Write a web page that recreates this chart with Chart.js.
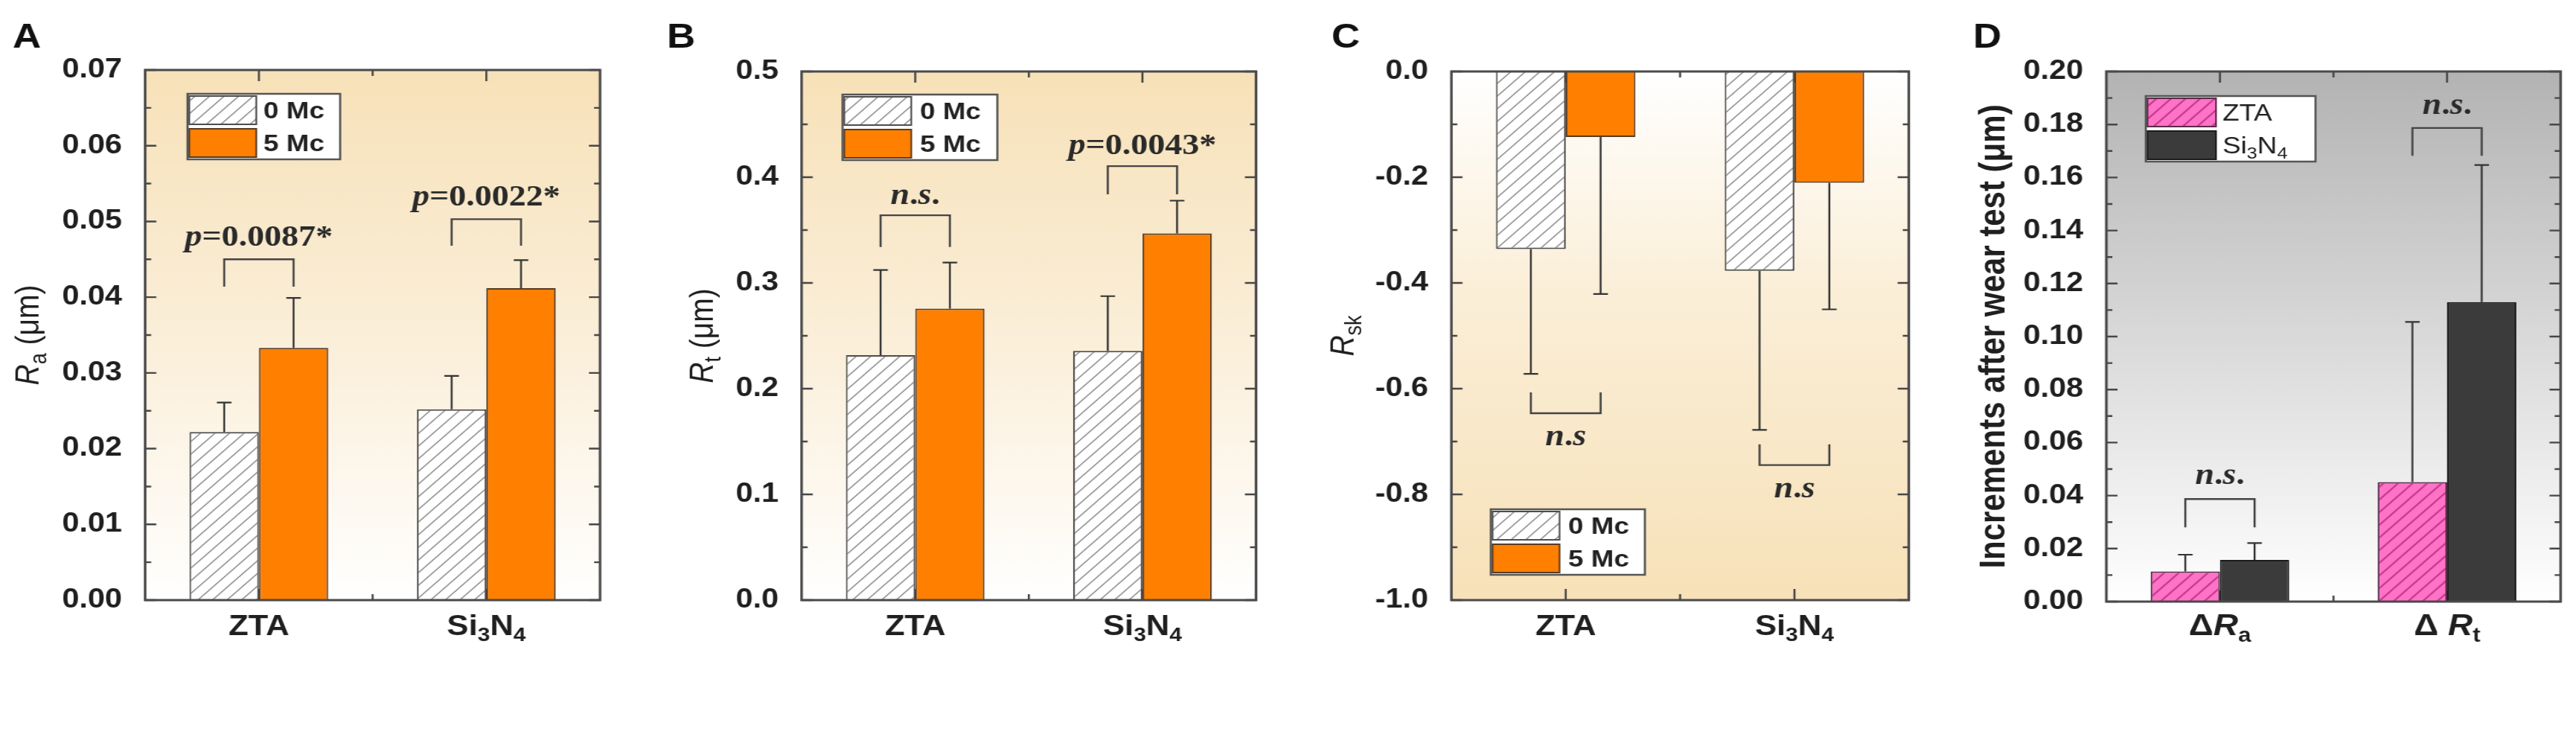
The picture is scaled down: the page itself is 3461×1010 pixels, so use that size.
<!DOCTYPE html>
<html>
<head>
<meta charset="utf-8">
<script src="https://cdn.jsdelivr.net/npm/chart.js@4.4.0/dist/chart.umd.min.js"></script>
<style>
  html, body { margin: 0; padding: 0; background: #fff; }
  body { width: 3461px; height: 1010px; position: relative; overflow: hidden; }
  .panel { position: absolute; top: 0; height: 1010px; transform-origin: 0 0; }
</style>
</head>
<body>
<div class="panel" id="pA"></div>
<div class="panel" id="pB"></div>
<div class="panel" id="pC"></div>
<div class="panel" id="pD"></div>
<script>
// the reference figure is stretched sideways, so each panel is drawn narrow and scaled in x
var S = 1.15;
var H = 1010;
var SANS = '"Liberation Sans", Arial, sans-serif';
var SERIF = '"Liberation Serif", "Times New Roman", serif';

// ---- data ----
var groups = ['ZTA', 'Si3N4'];
var mcLabels = ['0 Mc', '5 Mc'];

// A: Ra (um), mean and SD
var ra0 = [0.0222, 0.0252];
var ra5 = [0.0333, 0.0412];
var ra0Sd = [0.0039, 0.0044];
var ra5Sd = [0.0066, 0.0037];
var raAxis = [0, 0.07, 0.01];
var raSig = ['p=0.0087*', 'p=0.0022*'];
var raSigY = [0.0468, 0.0521];
var raBrY = [0.0450, 0.0503];
var raLegY = [0.0414, 0.0468];

// B: Rt (um)
var rt0 = [0.2317, 0.2357];
var rt5 = [0.2757, 0.3468];
var rt0Sd = [0.0805, 0.0518];
var rt5Sd = [0.0436, 0.0310];
var rtAxis = [0, 0.5, 0.1];
var rtSig = ['n.s.', 'p=0.0043*'];
var rtSigY = [0.3746, 0.4215];
var rtBrY = [0.3640, 0.4105];
var rtLegY = [0.3340, 0.3838];

// C: Rsk
var rsk0 = [-0.336, -0.377];
var rsk5 = [-0.124, -0.2105];
var rsk0Sd = [0.236, 0.301];
var rsk5Sd = [0.297, 0.2395];
var rskAxis = [-1.0, 0.0, 0.2];
var rskSig = ['n.s', 'n.s'];
var rskSigY = [-0.707, -0.805];
var rskBrY = [-0.6465, -0.7446];
var rskLegY = [-0.607, -0.7053];

// D: increments after wear test (um)
var incCats = ['ΔR_a', 'Δ R_t'];
var incLabels = ['ZTA', 'Si3N4'];
var incZta = [0.0114, 0.0451];
var incSi = [0.0157, 0.1130];
var incZtaSd = [0.0063, 0.0604];
var incSiSd = [0.0064, 0.0517];
var incAxis = [0, 0.20, 0.02];
var incSig = ['n.s.', 'n.s.'];
var incSigY = [0.0445, 0.1839];
var incBrY = [0.0387, 0.1787];
var incLegY = [0.0280, 0.1682];

// ---- colours ----
var ORANGE = '#ff7f00';
var BEIGE_TOP = [[0, '#f7e1b8'], [0.55, '#fbf0dc'], [1, '#ffffff']];
var BEIGE_BOTTOM = [[0, '#ffffff'], [0.4, '#fbefd9'], [1, '#f7e1b8']];
var GREY_TOP = [[0, '#b3b3b3'], [1, '#ffffff']];

function hatch(bg, line, lw) {
  var n = 17;
  var c = document.createElement('canvas');
  c.width = c.height = n;
  var x = c.getContext('2d');
  x.fillStyle = bg;
  x.fillRect(0, 0, n, n);
  x.strokeStyle = line;
  x.lineWidth = lw;
  x.beginPath();
  x.moveTo(-4, n + 4); x.lineTo(n + 4, -4);
  x.moveTo(-4, 4); x.lineTo(4, -4);
  x.moveTo(n - 4, n + 4); x.lineTo(n + 4, n - 4);
  x.stroke();
  return x.createPattern(c, 'repeat');
}
var HATCH_GREY = hatch('#ffffff', '#8d8d8d', 1.5);
var HATCH_PINK = hatch('#ff72c6', '#c23c92', 2.2);

// text with italic R, subscripts after "_" and digits after letters
function rich(str, size, weight, fam, italicLetters) {
  var out = [];
  function add(t, f, dy) {
    var last = out[out.length - 1];
    if (last && last.f === f && last.dy === dy) last.t += t;
    else out.push({ t: t, f: f, dy: dy });
  }
  var subF = weight + ' ' + Math.round(size * 0.68) + 'px ' + fam;
  var subDy = Math.round(size * 0.22);
  for (var i = 0; i < str.length; i++) {
    var ch = str[i];
    if (ch === '_') {
      while (i + 1 < str.length && /[a-z0-9]/.test(str[i + 1])) { i++; add(str[i], subF, subDy); }
      continue;
    }
    if (/[0-9]/.test(ch) && i > 0 && /[A-Za-z]/.test(str[i - 1])) { add(ch, subF, subDy); continue; }
    var it = italicLetters ? /[a-zA-Z]/.test(ch) : ch === 'R';
    add(ch, (it ? 'italic ' : '') + weight + ' ' + size + 'px ' + fam, 0);
  }
  return out;
}

function drawRich(ctx, list, x, y, align) {
  var total = 0;
  list.forEach(function (pt) { ctx.font = pt.f; pt.w = ctx.measureText(pt.t).width; total += pt.w; });
  var sx = align === 'center' ? x - total / 2 : (align === 'right' ? x - total : x);
  ctx.textAlign = 'left';
  ctx.textBaseline = 'alphabetic';
  list.forEach(function (pt) { ctx.font = pt.f; ctx.fillText(pt.t, sx, y + pt.dy); sx += pt.w; });
}

function panelPlugin(p) {
  return {
    id: 'panel' + p.letter,
    beforeDraw: function (chart) {
      var ctx = chart.ctx, a = chart.chartArea;
      ctx.save();
      ctx.fillStyle = '#fff';
      ctx.fillRect(0, 0, chart.width, chart.height);
      var g = ctx.createLinearGradient(0, a.top, 0, a.bottom);
      p.bg.forEach(function (s) { g.addColorStop(s[0], s[1]); });
      ctx.fillStyle = g;
      ctx.fillRect(a.left, a.top, a.right - a.left, a.bottom - a.top);
      ctx.restore();
    },
    beforeDatasetsDraw: function (chart) {
      // inward ticks on all four sides
      var ctx = chart.ctx, a = chart.chartArea, ys = chart.scales.y, xs = chart.scales.x;
      ctx.save();
      ctx.strokeStyle = '#474747';
      ctx.lineWidth = 2.4;
      ctx.beginPath();
      var vals = ys.ticks.map(function (t) { return t.value; });
      vals.forEach(function (v, i) {
        var y = ys.getPixelForValue(v);
        ctx.moveTo(a.left, y); ctx.lineTo(a.left + 13, y);
        ctx.moveTo(a.right, y); ctx.lineTo(a.right - 13, y);
        if (i < vals.length - 1) {
          var ym = ys.getPixelForValue((v + vals[i + 1]) / 2);
          ctx.moveTo(a.left, ym); ctx.lineTo(a.left + 7, ym);
          ctx.moveTo(a.right, ym); ctx.lineTo(a.right - 7, ym);
        }
      });
      var n = xs.ticks.length;
      for (var i = 0; i < n; i++) {
        var x = xs.getPixelForTick(i);
        ctx.moveTo(x, a.top); ctx.lineTo(x, a.top + 15);
        ctx.moveTo(x, a.bottom); ctx.lineTo(x, a.bottom - 15);
        if (i < n - 1) {
          var xm = (x + xs.getPixelForTick(i + 1)) / 2;
          ctx.moveTo(xm, a.top); ctx.lineTo(xm, a.top + 8);
          ctx.moveTo(xm, a.bottom); ctx.lineTo(xm, a.bottom - 8);
        }
      }
      ctx.stroke();
      ctx.restore();
    },
    afterDatasetsDraw: function (chart) {
      var ctx = chart.ctx, a = chart.chartArea, ys = chart.scales.y;
      ctx.save();
      // error bars (one sided, away from zero)
      ctx.strokeStyle = '#333';
      ctx.lineWidth = 2.2;
      p.series.forEach(function (s, d) {
        var meta = chart.getDatasetMeta(d);
        meta.data.forEach(function (el, i) {
          var v = s.data[i];
          var end = v + (v < 0 ? -1 : 1) * s.sd[i];
          var y2 = ys.getPixelForValue(end);
          ctx.beginPath();
          ctx.moveTo(el.x, el.y); ctx.lineTo(el.x, y2);
          ctx.moveTo(el.x - 8.5, y2); ctx.lineTo(el.x + 8.5, y2);
          ctx.stroke();
        });
      });
      // significance brackets
      var m0 = chart.getDatasetMeta(0), m1 = chart.getDatasetMeta(1);
      ctx.strokeStyle = '#444';
      ctx.lineWidth = 2.4;
      ctx.fillStyle = '#2a2a2a';
      p.sig.forEach(function (txt, i) {
        var x0 = m0.data[i].x, x1 = m1.data[i].x;
        var yb = ys.getPixelForValue(p.brY[i]), yl = ys.getPixelForValue(p.legY[i]);
        ctx.beginPath();
        ctx.moveTo(x0, yl); ctx.lineTo(x0, yb); ctx.lineTo(x1, yb); ctx.lineTo(x1, yl);
        ctx.stroke();
        drawRich(ctx, rich(txt, 40, 'bold', SERIF, true), (x0 + x1) / 2, ys.getPixelForValue(p.sigY[i]), 'center');
      });
      // frame
      ctx.strokeStyle = '#4a4a4a';
      ctx.lineWidth = 3;
      ctx.strokeRect(a.left, a.top, a.right - a.left, a.bottom - a.top);
      // legend box
      var L = p.legend;
      var lw = L.w / S, lh = 88, rh = lh / 2, sw = L.sw / S;
      var lx = a.left + L.x / S;
      var ly = L.corner === 'top' ? a.top + L.y : a.bottom - L.y - lh;
      ctx.fillStyle = '#fff';
      ctx.fillRect(lx, ly, lw, lh);
      p.series.forEach(function (s, d) {
        var ry = ly + d * rh;
        ctx.fillStyle = s.color;
        ctx.fillRect(lx + 2, ry + 3, sw, rh - 6);
        ctx.strokeStyle = s.border;
        ctx.lineWidth = 2;
        ctx.strokeRect(lx + 2, ry + 3, sw, rh - 6);
        ctx.fillStyle = '#222';
        drawRich(ctx, rich(s.label, 32, L.weight, SANS, false), lx + L.tx / S, ry + rh / 2 + 11, 'left');
      });
      ctx.strokeStyle = '#555';
      ctx.lineWidth = 2.5;
      ctx.strokeRect(lx, ly, lw, lh);
      ctx.restore();
    },
    afterDraw: function (chart) {
      var ctx = chart.ctx, a = chart.chartArea, xs = chart.scales.x;
      ctx.save();
      ctx.fillStyle = '#1f1f1f';
      // category labels
      p.cats.forEach(function (c, i) {
        drawRich(ctx, rich(c, p.catSize, 'bold', SANS, false), xs.getPixelForTick(i), 853, 'center');
      });
      // y title
      ctx.save();
      ctx.translate(p.titleX / S, (a.top + a.bottom) / 2);
      ctx.rotate(-Math.PI / 2);
      drawRich(ctx, rich(p.title, p.titleSize, p.titleWeight, SANS, false), 0, p.titleSize * 0.36, 'center');
      ctx.restore();
      // panel letter
      ctx.font = 'bold 46px ' + SANS;
      ctx.textAlign = 'left';
      ctx.textBaseline = 'alphabetic';
      ctx.fillStyle = '#111';
      ctx.fillText(p.letter, p.letterX / S, 64);
      ctx.restore();
    }
  };
}

function makePanel(id, p) {
  var cw = Math.round(p.width / S);
  var wrap = document.getElementById(id);
  wrap.style.left = p.left + 'px';
  wrap.style.width = cw + 'px';
  wrap.style.transform = 'scaleX(' + S + ')';
  var canvas = document.createElement('canvas');
  canvas.width = cw;
  canvas.height = H;
  canvas.style.width = cw + 'px';
  canvas.style.height = H + 'px';
  wrap.appendChild(canvas);

  var datasets = p.series.map(function (s) {
    return {
      label: s.label,
      data: s.data,
      backgroundColor: s.color,
      borderColor: s.border,
      borderWidth: 2,
      barPercentage: 1.0,
      categoryPercentage: 0.61
    };
  });

  return new Chart(canvas, {
    type: 'bar',
    data: { labels: p.cats, datasets: datasets },
    options: {
      responsive: false,
      animation: false,
      devicePixelRatio: 1,
      layout: { padding: { top: p.plot.t, right: (p.width - p.plot.r) / S, left: 0, bottom: 0 } },
      plugins: { legend: { display: false }, tooltip: { enabled: false } },
      scales: {
        x: {
          grid: { display: false },
          border: { display: false },
          ticks: { display: false },
          afterFit: function (s) { s.height = H - p.plot.b; }
        },
        y: {
          min: p.axis[0],
          max: p.axis[1],
          grid: { display: false },
          border: { display: false },
          ticks: {
            stepSize: p.axis[2],
            autoSkip: false,
            padding: 19,
            color: '#1f1f1f',
            font: { family: SANS, size: 36, weight: 'bold' },
            callback: function (v) { return (Math.abs(v) < 1e-9 ? 0 : v).toFixed(p.dec); }
          },
          afterFit: function (s) { s.width = p.plot.l / S; }
        }
      }
    },
    plugins: [panelPlugin(p)]
  });
}

makePanel('pA', {
  letter: 'A', left: 0, width: 860, plot: { l: 195, r: 806, t: 94, b: 806 },
  letterX: 17, titleX: 36, title: 'R_a (μm)', titleSize: 39, titleWeight: 'normal',
  cats: groups, catSize: 38, axis: raAxis, dec: 2, bg: BEIGE_TOP,
  series: [
    { label: mcLabels[0], data: ra0, sd: ra0Sd, color: HATCH_GREY, border: '#4d4d4d' },
    { label: mcLabels[1], data: ra5, sd: ra5Sd, color: ORANGE, border: '#5a3a20' }
  ],
  sig: raSig, sigY: raSigY, brY: raBrY, legY: raLegY,
  legend: { corner: 'top', x: 57, y: 32, w: 205, sw: 90, tx: 102, weight: 'bold' }
});

makePanel('pB', {
  letter: 'B', left: 860, width: 870, plot: { l: 217, r: 827, t: 96, b: 806 },
  letterX: 36, titleX: 82, title: 'R_t (μm)', titleSize: 39, titleWeight: 'normal',
  cats: groups, catSize: 38, axis: rtAxis, dec: 1, bg: BEIGE_TOP,
  series: [
    { label: mcLabels[0], data: rt0, sd: rt0Sd, color: HATCH_GREY, border: '#4d4d4d' },
    { label: mcLabels[1], data: rt5, sd: rt5Sd, color: ORANGE, border: '#5a3a20' }
  ],
  sig: rtSig, sigY: rtSigY, brY: rtBrY, legY: rtLegY,
  legend: { corner: 'top', x: 55, y: 31, w: 208, sw: 90, tx: 104, weight: 'bold' }
});

makePanel('pC', {
  letter: 'C', left: 1730, width: 870, plot: { l: 220, r: 834, t: 96, b: 806 },
  letterX: 59, titleX: 72, title: 'R_sk', titleSize: 39, titleWeight: 'normal',
  cats: groups, catSize: 38, axis: rskAxis, dec: 1, bg: BEIGE_BOTTOM,
  series: [
    { label: mcLabels[0], data: rsk0, sd: rsk0Sd, color: HATCH_GREY, border: '#4d4d4d' },
    { label: mcLabels[1], data: rsk5, sd: rsk5Sd, color: ORANGE, border: '#5a3a20' }
  ],
  sig: rskSig, sigY: rskSigY, brY: rskBrY, legY: rskLegY,
  legend: { corner: 'bottom', x: 53, y: 34, w: 207, sw: 90, tx: 104, weight: 'bold' }
});

makePanel('pD', {
  letter: 'D', left: 2600, width: 861, plot: { l: 230, r: 840, t: 96, b: 808 },
  letterX: 51, titleX: 76, title: 'Increments after wear test (μm)', titleSize: 42, titleWeight: 'bold',
  cats: incCats, catSize: 40, axis: incAxis, dec: 2, bg: GREY_TOP,
  series: [
    { label: incLabels[0], data: incZta, sd: incZtaSd, color: HATCH_PINK, border: '#5a2a48' },
    { label: incLabels[1], data: incSi, sd: incSiSd, color: '#3b3b3b', border: '#1c1c1c' }
  ],
  sig: incSig, sigY: incSigY, brY: incBrY, legY: incLegY,
  legend: { corner: 'top', x: 53, y: 33, w: 228, sw: 92, tx: 103, weight: 'normal' }
});
</script>
</body>
</html>
